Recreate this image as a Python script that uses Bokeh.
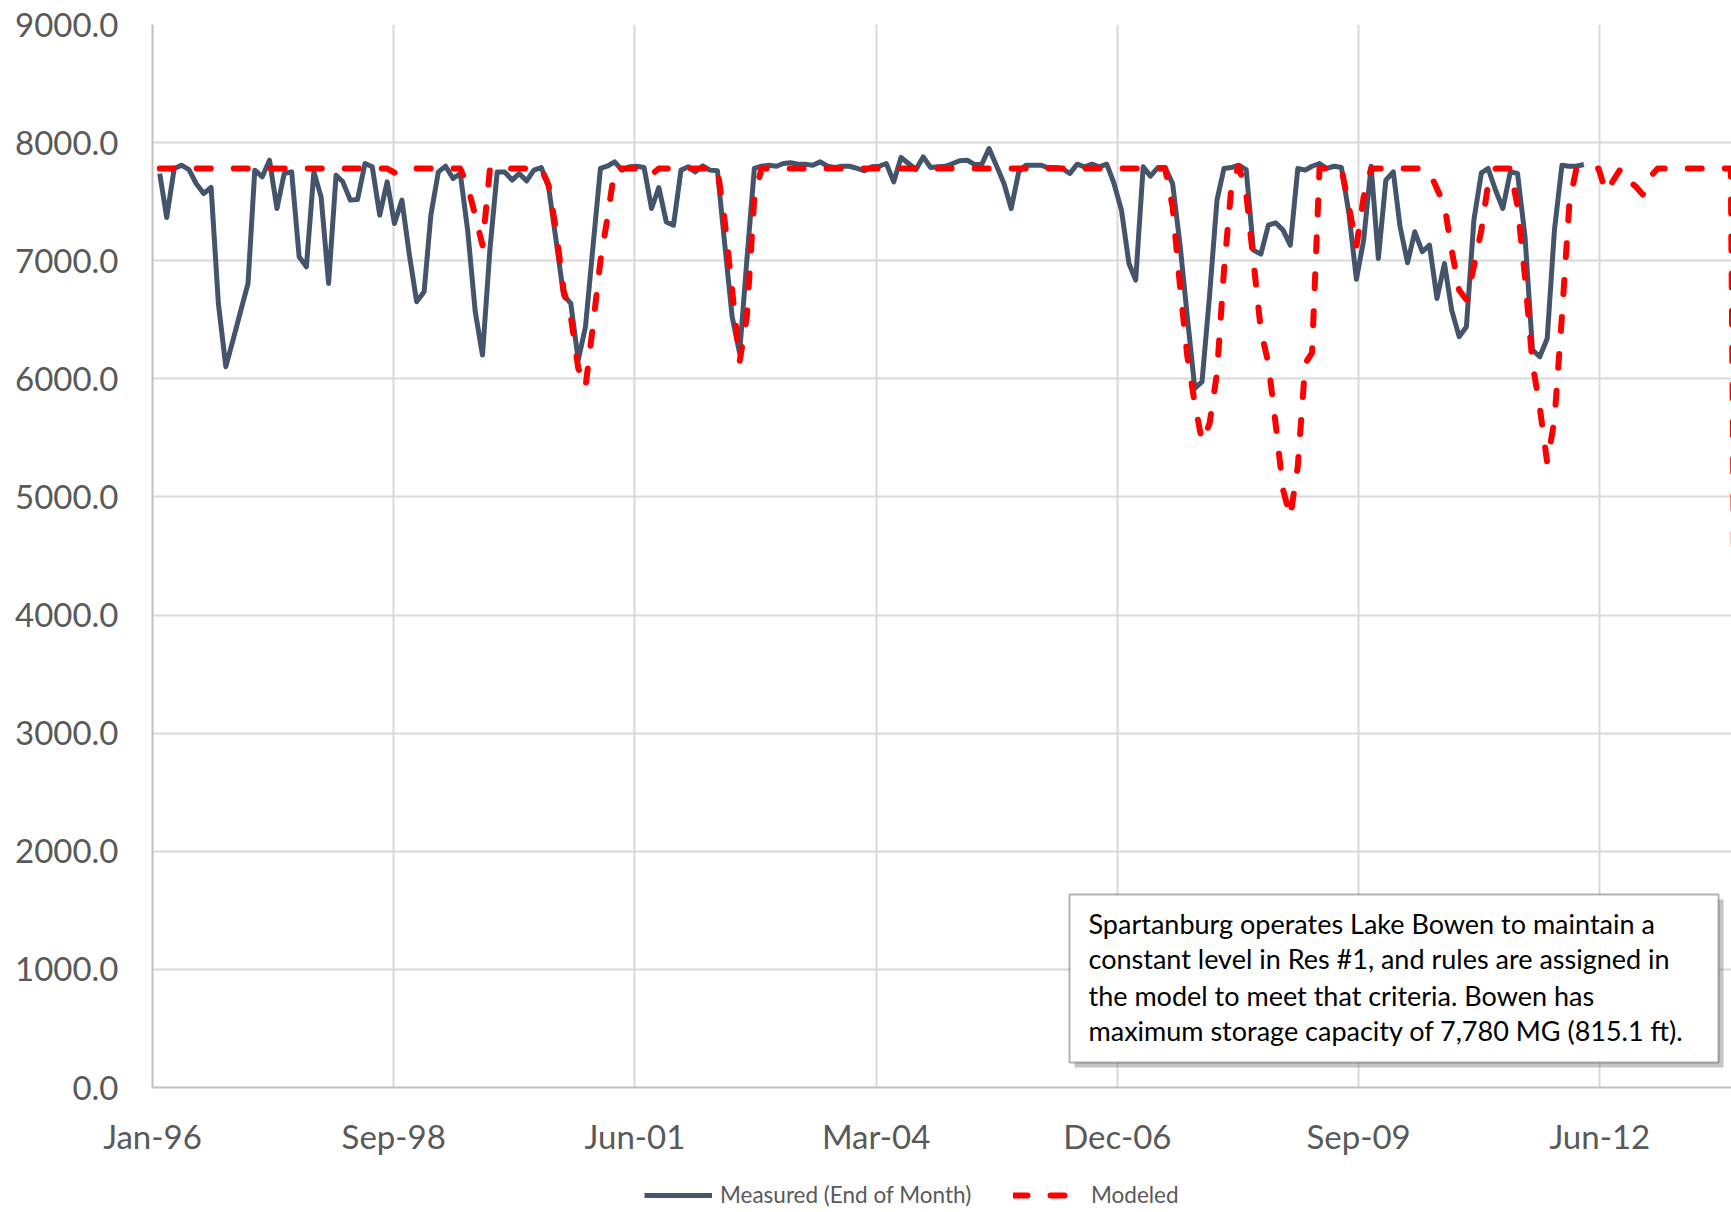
import calendar
import datetime

from bokeh.plotting import figure
from bokeh.layouts import column
from bokeh.models import (Range1d, FixedTicker, PrintfTickFormatter, Legend, LegendItem,
                          BoxAnnotation, Label, ColumnDataSource)
from bokeh.embed import file_html
from bokeh.resources import INLINE

# ---------------- data ----------------
START = datetime.date(1996, 1, 1)

MEASURED = [
    7738, 7366, 7781, 7809, 7772, 7654, 7569, 7620, 6639, 6103,
    6330, 6570, 6808, 7767, 7710, 7851, 7442, 7738, 7752, 7033,
    6949, 7752, 7541, 6808, 7724, 7668, 7513, 7518, 7823, 7795,
    7386, 7668, 7315, 7513, 7062, 6653, 6737, 7386, 7752, 7800,
    7696, 7738, 7250, 6568, 6202, 7100, 7752, 7752, 7682, 7738,
    7676, 7767, 7789, 7626, 7174, 6709, 6639, 6159, 6441, 7118,
    7781, 7800, 7837, 7767, 7795, 7800, 7789, 7442, 7620, 7329,
    7301, 7767, 7795, 7752, 7803, 7767, 7761, 7146, 6526, 6216,
    7005, 7781, 7800, 7809, 7800, 7823, 7829, 7817, 7817, 7809,
    7837, 7800, 7789, 7800, 7800, 7781, 7761, 7795, 7800, 7823,
    7668, 7874, 7823, 7772, 7879, 7789, 7795, 7800, 7823, 7846,
    7851, 7815, 7817, 7950, 7803, 7654, 7442, 7752, 7809, 7809,
    7809, 7789, 7789, 7781, 7738, 7817, 7795, 7817, 7795, 7817,
    7654, 7428, 6977, 6836, 7795, 7716, 7789, 7789, 7654, 7132,
    6526, 5920, 5976, 6700, 7513, 7781, 7789, 7809, 7772, 7090,
    7056, 7301, 7321, 7259, 7132, 7781, 7767, 7800, 7823, 7781,
    7800, 7789, 7400, 6843, 7174, 7800, 7019, 7682, 7752, 7287,
    6983, 7245, 7076, 7132, 6681, 6977, 6582, 6357, 6441, 7344,
    7744, 7781, 7597, 7442, 7752, 7738, 7203, 6244, 6187, 6342,
    7259, 7809, 7800, 7800, 7815,
]

MODELED = [
    7780, 7780, 7780, 7780, 7780, 7780, 7780, 7780, 7780, 7780,
    7780, 7780, 7780, 7780, 7780, 7780, 7780, 7780, 7780, 7780,
    7780, 7780, 7780, 7780, 7780, 7780, 7780, 7780, 7780, 7780,
    7780, 7780, 7745, 7780, 7780, 7780, 7780, 7780, 7780, 7780,
    7780, 7780, 7630, 7380, 7130, 7780, 7780, 7780, 7780, 7780,
    7780, 7780, 7780, 7640, 7260, 6750, 6530, 6090, 5930, 6450,
    7000, 7350, 7780, 7780, 7780, 7780, 7780, 7730, 7780, 7780,
    7780, 7780, 7780, 7780, 7780, 7780, 7780, 7340, 6750, 6145,
    6530, 7540, 7780, 7780, 7780, 7780, 7780, 7780, 7780, 7780,
    7780, 7780, 7780, 7780, 7780, 7780, 7780, 7780, 7780, 7780,
    7780, 7780, 7780, 7780, 7780, 7780, 7780, 7780, 7780, 7780,
    7780, 7780, 7780, 7780, 7780, 7780, 7780, 7780, 7780, 7780,
    7780, 7780, 7780, 7780, 7780, 7780, 7780, 7780, 7780, 7780,
    7780, 7780, 7780, 7780, 7780, 7780, 7780, 7780, 7456, 6780,
    6190, 5790, 5470, 5620, 6050, 6920, 7630, 7800, 7570, 7000,
    6410, 6130, 5620, 5060, 4830, 5260, 6130, 6220, 7780, 7780,
    7780, 7780, 7460, 7120, 7540, 7780, 7780, 7780, 7780, 7780,
    7780, 7780, 7780, 7750, 7610, 7470, 7090, 6750, 6670, 6950,
    7260, 7650, 7780, 7780, 7780, 7460, 6860, 6130, 5760, 5290,
    5650, 6530, 7490, 7780, 7780, 7780, 7780, 7580, 7680, 7780,
    7680, 7630, 7560, 7710, 7780, 7780, 7780, 7780, 7780, 7780,
    7780, 7780, 7780, 7780, 7780, 0,
]

TICK_DAYS = [0, 1000, 2000, 3000, 4000, 5000, 6000]
TICK_LABELS = ["Jan-96", "Sep-98", "Jun-01", "Mar-04", "Dec-06", "Sep-09", "Jun-12"]
Y_TICKS = [0, 1000, 2000, 3000, 4000, 5000, 6000, 7000, 8000, 9000]

SERIES_NAMES = ["Measured (End of Month)", "Modeled"]

NOTE_LINES = [
    "Spartanburg operates Lake Bowen to maintain a",
    "constant level in Res #1, and rules are assigned in",
    "the model to meet that criteria. Bowen has",
    "maximum storage capacity of 7,780 MG (815.1 ft).",
]


def month_end_days(n):
    out = []
    for m in range(n):
        y = START.year + m // 12
        mo = m % 12 + 1
        d = datetime.date(y, mo, calendar.monthrange(y, mo)[1])
        out.append((d - START).days)
    return out


days_meas = month_end_days(len(MEASURED))
days_mod = month_end_days(len(MODELED))

FONT = "Lato"
GREY_TXT = "#595959"
MEAS_STYLE = dict(line_color="#44546A", line_width=5, line_join="round")
MOD_STYLE = dict(line_color="#FF0000", line_width=6, line_dash="14 23",
                 line_cap="round", line_join="round")

# ---------------- main chart ----------------
p = figure(width=1731, height=1172, output_backend="svg", toolbar_location=None,
           x_range=Range1d(0, 6546), y_range=Range1d(0, 9000),
           min_border_left=152, min_border_right=0, min_border_top=24, min_border_bottom=85)
p.outline_line_color = None
p.background_fill_color = "white"
p.border_fill_color = "white"

p.xaxis.ticker = FixedTicker(ticks=TICK_DAYS)
p.xaxis.major_label_overrides = {d: lab for d, lab in zip(TICK_DAYS, TICK_LABELS)}
p.yaxis.ticker = FixedTicker(ticks=Y_TICKS)
p.yaxis.formatter = PrintfTickFormatter(format="%.1f")

for ax in (p.xaxis[0], p.yaxis[0]):
    ax.major_tick_line_color = None
    ax.minor_tick_line_color = None
    ax.major_tick_out = 0
    ax.major_tick_in = 0
    ax.axis_line_color = "#BFBFBF"
    ax.axis_line_width = 2
    ax.major_label_text_font = FONT
    ax.major_label_text_font_size = "33px"
    ax.major_label_text_color = GREY_TXT
p.yaxis.major_label_standoff = 34
p.xaxis.major_label_standoff = 28

p.grid.grid_line_color = "#D9D9D9"
p.grid.grid_line_width = 2

src_meas = ColumnDataSource(dict(x=days_meas, y=MEASURED))
src_mod = ColumnDataSource(dict(x=days_mod, y=MODELED))

p.line("x", "y", source=src_meas, **MEAS_STYLE)
p.line("x", "y", source=src_mod, **MOD_STYLE)

# note box with shadow
p.add_layout(BoxAnnotation(left=922, right=1571, bottom=20, top=188,
                           left_units="screen", right_units="screen",
                           bottom_units="screen", top_units="screen",
                           fill_color="#7F7F7F", fill_alpha=0.45, line_color=None))
p.add_layout(BoxAnnotation(left=917, right=1566, bottom=25, top=193,
                           left_units="screen", right_units="screen",
                           bottom_units="screen", top_units="screen",
                           fill_color="white", fill_alpha=1.0,
                           line_color="black", line_width=2))
for txt, yy in zip(NOTE_LINES, [164, 129, 92, 57]):
    p.add_layout(Label(x=936, y=yy, x_units="screen", y_units="screen", text=txt,
                       text_font=FONT, text_font_size="27px", text_color="black",
                       text_baseline="middle", text_align="left"))

# ---------------- legend strip ----------------
lg = figure(width=1731, height=40, output_backend="svg", toolbar_location=None,
            x_range=Range1d(0, 1), y_range=Range1d(0, 1),
            x_axis_location=None, y_axis_location=None,
            min_border_left=0, min_border_right=0, min_border_top=0, min_border_bottom=0)
lg.outline_line_color = None
lg.grid.visible = False
lg.background_fill_color = "white"
lg.border_fill_color = "white"

# single off-range point per series: renderers that only feed the legend glyphs
g_meas = lg.line(x=[-5], y=[-5], **MEAS_STYLE)
g_mod = lg.line(x=[-5], y=[-5], **MOD_STYLE)


def make_legend(label, renderer, x, gw, standoff):
    return Legend(items=[LegendItem(label=label, renderers=[renderer])],
                  location=(x, 4), orientation="horizontal",
                  padding=0, margin=0, border_line_color=None, background_fill_alpha=0,
                  glyph_width=gw, glyph_height=24, label_height=24,
                  label_standoff=standoff, label_text_font=FONT,
                  label_text_font_size="22.5px", label_text_color=GREY_TXT)


# legend strip frame is aligned with the main frame (starts 152 px in)
lg.add_layout(make_legend(SERIES_NAMES[0], g_meas, 492, 68, 8))
lg.add_layout(make_legend(SERIES_NAMES[1], g_mod, 861, 58, 20))

layout = column(p, lg, spacing=0)
open("out.html", "w").write(file_html(layout, INLINE))
